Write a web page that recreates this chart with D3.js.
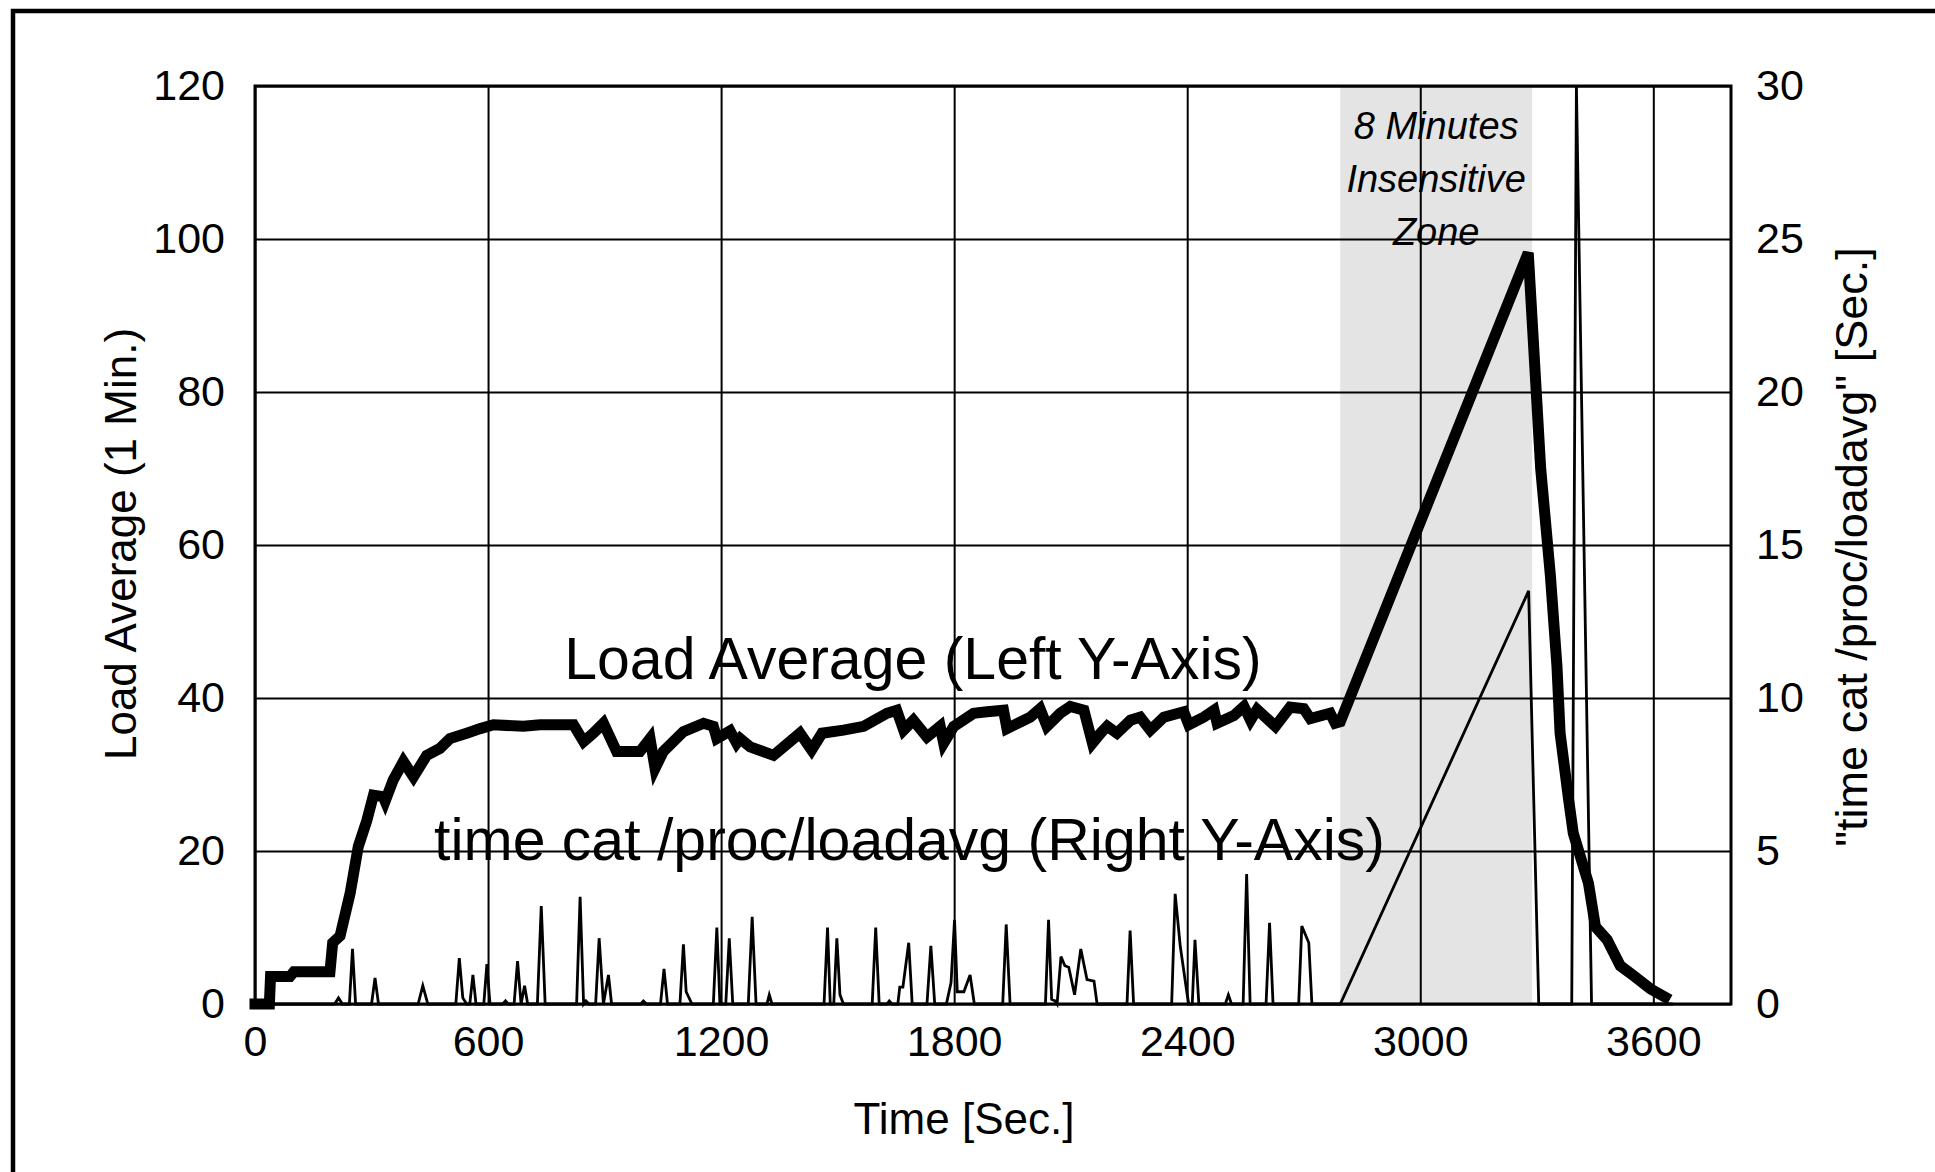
<!DOCTYPE html>
<html>
<head>
<meta charset="utf-8">
<script src="https://cdn.jsdelivr.net/npm/d3@7"></script>
<style>
    html, body { margin: 0; background: #fff; overflow: hidden; }
    svg { display: block; }
    text { font-family: "Liberation Sans", Arial, Helvetica, sans-serif; fill: #000; }
    .axis path, .axis line { display: none; }
    .axis text { font-size: 43px; }
    .grid path { display: none; }
    .grid line { stroke: #000; stroke-width: 2; }
</style>
</head>
<body>
<div id="chart"></div>
<script>
// load average, 1 min (left axis)
const loadTime = [0, 37, 40, 90, 100, 193, 200, 219, 245, 266, 288, 305, 330, 335, 356, 382, 408, 442, 476, 502,
    545, 580, 614, 691, 734, 820, 846, 871, 897, 931, 991, 1017, 1030, 1051, 1103, 1155, 1180, 1189, 1223, 1240,
    1249, 1275, 1335, 1403, 1433, 1460, 1515, 1567, 1627, 1652, 1670, 1695, 1730, 1764, 1773, 1799, 1850, 1885, 1927, 1936,
    1996, 2021, 2039, 2073, 2099, 2134, 2156, 2177, 2194, 2219, 2254, 2279, 2305, 2340, 2391, 2404, 2443, 2469, 2477, 2520,
    2546, 2563, 2580, 2627, 2665, 2700, 2717, 2768, 2781, 2794, 3278, 3310, 3335, 3352, 3360, 3382, 3394, 3433, 3451, 3481,
    3515, 3549, 3592, 3630]
const loadAvg = [0, 0, 3.6, 3.6, 4.2, 4.2, 8.0, 8.9, 14.5, 20.6, 24, 27.3, 27.1, 26.5, 29.3, 31.7, 29.7, 32.5, 33.4, 34.7,
    35.4, 36.0, 36.5, 36.3, 36.5, 36.5, 34.3, 35.4, 36.7, 33.0, 33.0, 34.7, 30.8, 33.0, 35.6, 36.7, 36.3, 34.7, 35.7, 34.1,
    34.7, 33.6, 32.5, 35.4, 33.2, 35.4, 35.8, 36.3, 38, 38.4, 35.8, 37.1, 34.9, 36.3, 34.1, 36.3, 38, 38.2, 38.4, 36,
    37.5, 38.6, 36.3, 38, 38.9, 38.4, 34.1, 35.4, 36.3, 35.4, 37.1, 37.5, 35.8, 37.5, 38.2, 36.5, 37.5, 38.4, 36.7, 37.7,
    38.9, 37.1, 38.5, 36.3, 38.8, 38.6, 37.3, 38.0, 36.7, 36.9, 98.2, 70, 56, 44.1, 35.4, 26.7, 22.3, 15.8, 10.1, 8.4,
    5.0, 3.7, 2.0, 0.9]

// time cat /proc/loadavg, seconds (right axis)
const catTime = [0, 205, 215, 225, 243, 251, 259, 300, 309, 318, 420, 432, 445, 517, 526, 535, 545, 553, 561, 569,
    589, 597, 605, 638, 645, 652, 667, 676, 685, 694, 702, 727, 737, 747, 828, 837, 846, 852, 860, 877,
    886, 897, 910, 918, 993, 1000, 1008, 1044, 1053, 1062, 1094, 1103, 1110, 1125, 1180, 1189, 1197, 1212, 1221, 1230,
    1270, 1280, 1290, 1318, 1324, 1331, 1465, 1474, 1481, 1490, 1498, 1506, 1515, 1589, 1598, 1607, 1627, 1633, 1640, 1655,
    1660, 1668, 1683, 1692, 1730, 1740, 1750, 1780, 1792, 1801, 1808, 1825, 1841, 1852, 1925, 1934, 1944, 2035, 2043, 2051,
    2060, 2065, 2075, 2085, 2095, 2110, 2126, 2142, 2160, 2168, 2245, 2253, 2262, 2360, 2369, 2382, 2400, 2404, 2413, 2420,
    2430, 2498, 2506, 2514, 2544, 2553, 2562, 2603, 2612, 2621, 2687, 2695, 2713, 2721, 2794, 3279, 3305, 3390, 3402, 3441,
    3650]
const catSec = [0, 0, 0.2, 0, 0, 1.8, 0, 0, 0.85, 0, 0, 0.6, 0, 0, 1.5, 0.2, 0, 0, 0.95, 0,
    0, 1.3, 0, 0, 0.1, 0, 0, 1.4, 0, 0.6, 0, 0, 3.2, 0, 0, 3.5, 0, 0.1, 0, 0,
    2.15, 0, 0.95, 0, 0, 0.1, 0, 0, 1.15, 0, 0, 1.95, 0.4, 0, 0, 2.5, 0, 0, 2.15, 0,
    0, 2.85, 0, 0, 0.3, 0, 0, 2.5, 0, 0, 2.15, 0.3, 0, 0, 2.5, 0, 0, 0.1, 0, 0,
    0.55, 0.55, 2.0, 0, 0, 1.9, 0, 0, 0.7, 2.75, 0.4, 0.4, 0.95, 0, 0, 2.6, 0, 0, 2.75, 0.15,
    0.1, 0, 1.55, 1.25, 1.2, 0.3, 1.8, 0.8, 0.75, 0, 0, 2.4, 0, 0, 3.6, 1.9, 0.3, 0, 0, 2.1,
    0, 0, 0.3, 0, 0, 4.25, 0, 0, 2.65, 0, 0, 2.55, 2.0, 0, 0, 13.5, 0, 0, 30, 0,
    0]

const xTicks = [0, 600, 1200, 1800, 2400, 3000, 3600]
const leftTicks = [0, 20, 40, 60, 80, 100, 120]
const rightTicks = [0, 5, 10, 15, 20, 25, 30]
const zone = [2794, 3288]
const zoneLabel = ["8 Minutes", "Insensitive", "Zone"]

drawChart()
function drawChart(){
    const margin = {top : 86, left : 255},
          width  = 1476,
          height = 918;

    const svg = d3.select('#chart').append('svg')
    .attr('width', 1935)
    .attr('height', 1172)

    // outer frame (cut by the picture edge on the right and at the bottom)
    svg.append('rect')
    .attr('x', 13).attr('y', 11)
    .attr('width', 2000).attr('height', 1300)
    .attr('fill', 'none').attr('stroke', '#000').attr('stroke-width', 4.5)

    const chart = svg.append('g')
    .attr('transform', `translate(${margin.left},${margin.top})`)

    const xScale = d3.scaleLinear().domain([0, 3800]).range([0, width])
    const yLeft = d3.scaleLinear().domain([0, 120]).range([height, 0])
    const yRight = d3.scaleLinear().domain([0, 30]).range([height, 0])

    //Insensitive zone
    chart.append('rect')
    .attr('x', xScale(zone[0]))
    .attr('y', 0)
    .attr('width', xScale(zone[1]) - xScale(zone[0]))
    .attr('height', height)
    .attr('fill', '#e4e4e4')

    //Draw grid
    chart.append('g')
    .attr('class', 'grid')
    .call(d3.axisLeft(yLeft).tickValues(leftTicks).tickSize(-width).tickFormat(''))
    chart.append('g')
    .attr('class', 'grid')
    .attr('transform', `translate(0,${height})`)
    .call(d3.axisBottom(xScale).tickValues(xTicks).tickSize(-height).tickFormat(''))
    //End Draw grid

    chart.append('rect')
    .attr('width', width).attr('height', height)
    .attr('fill', 'none').attr('stroke', '#000').attr('stroke-width', 3)

    //Axes
    chart.append('g')
    .attr('class', 'axis')
    .call(d3.axisLeft(yLeft).tickValues(leftTicks).tickSize(0).tickPadding(30))
    chart.append('g')
    .attr('class', 'axis')
    .attr('transform', `translate(${width},0)`)
    .call(d3.axisRight(yRight).tickValues(rightTicks).tickSize(0).tickPadding(25))
    chart.append('g')
    .attr('class', 'axis')
    .attr('transform', `translate(0,${height})`)
    .call(d3.axisBottom(xScale).tickValues(xTicks).tickSize(0).tickPadding(21).tickFormat(d3.format('d')))

    //Zone label
    chart.append('g')
    .selectAll('text')
    .data(zoneLabel)
    .enter()
        .append('text')
        .attr('x', xScale((zone[0] + zone[1]) / 2))
        .attr('y', (d, i) => 53 + i * 53)
        .attr('text-anchor', 'middle')
        .style('font-size', '38px')
        .style('font-style', 'italic')
        .text(d => d)

    //Series labels
    chart.append('text')
    .attr('x', xScale(1694))
    .attr('y', yLeft(42.5))
    .attr('text-anchor', 'middle')
    .style('font-size', '59px')
    .text('Load Average (Left Y-Axis)')
    chart.append('text')
    .attr('x', xScale(1685))
    .attr('y', yRight(4.7))
    .attr('text-anchor', 'middle')
    .style('font-size', '59px')
    .text('time cat /proc/loadavg (Right Y-Axis)')

    //Lines
    const catLine = d3.line()
    .x((d, i) => xScale(catTime[i]))
    .y((d) => yRight(d))
    chart.append('path')
    .datum(catSec)
    .attr('d', catLine)
    .attr('fill', 'none')
    .attr('stroke', '#000')
    .attr('stroke-width', 2.8)

    const loadLine = d3.line()
    .x((d, i) => xScale(loadTime[i]))
    .y((d) => yLeft(d))
    chart.append('path')
    .datum(loadAvg)
    .attr('d', loadLine)
    .attr('fill', 'none')
    .attr('stroke', '#000')
    .attr('stroke-width', 11)
    .attr('stroke-linecap', 'square')
    .attr('stroke-linejoin', 'miter')

    //Axis titles
    svg.append('text')
    .attr('x', 964)
    .attr('y', 1134)
    .attr('text-anchor', 'middle')
    .style('font-size', '44px')
    .text('Time [Sec.]')

    svg.append('text')
    .attr('transform', 'translate(136,544) rotate(-90)')
    .attr('text-anchor', 'middle')
    .style('font-size', '44px')
    .text('Load Average (1 Min.)')

    svg.append('text')
    .attr('transform', 'translate(1867,547) rotate(-90)')
    .attr('text-anchor', 'middle')
    .style('font-size', '45px')
    .text('"time cat /proc/loadavg" [Sec.]')
}
</script>
</body>
</html>
